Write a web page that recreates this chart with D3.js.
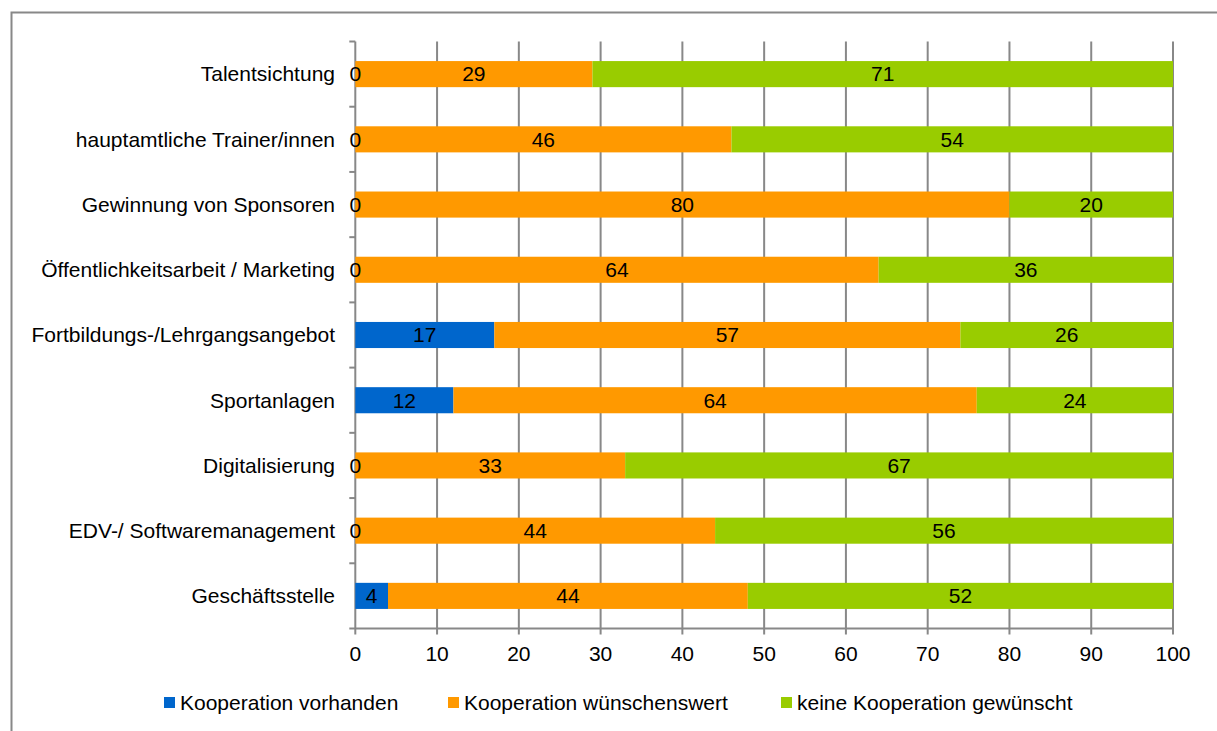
<!DOCTYPE html>
<html>
<head>
<meta charset="utf-8">
<script src="https://cdn.jsdelivr.net/npm/d3@7"></script>
<style>
  html, body { margin: 0; padding: 0; background: #fff; }
  svg { display: block; font-family: "Liberation Sans", Arial, sans-serif; }
</style>
</head>
<body>
<svg id="chart" width="1217" height="731"></svg>
<script>
// Categories, top to bottom
const categories = [
  "Talentsichtung",
  "hauptamtliche Trainer/innen",
  "Gewinnung von Sponsoren",
  "Öffentlichkeitsarbeit / Marketing",
  "Fortbildungs-/Lehrgangsangebot",
  "Sportanlagen",
  "Digitalisierung",
  "EDV-/ Softwaremanagement",
  "Geschäftsstelle"
];

// Share of answers (percent) per category
const vorhanden   = [0, 0, 0, 0, 17, 12, 0, 0, 4];
const wuenschens  = [29, 46, 80, 64, 57, 64, 33, 44, 44];
const keine       = [71, 54, 20, 36, 26, 24, 67, 56, 52];

const seriesNames = ["Kooperation vorhanden", "Kooperation wünschenswert", "keine Kooperation gewünscht"];
const seriesColors = ["#0066CC", "#FF9900", "#99CC00"];
const xTicks = [0, 10, 20, 30, 40, 50, 60, 70, 80, 90, 100];

const rows = categories.map((c, i) => ({ cat: c, v0: vorhanden[i], v1: wuenschens[i], v2: keine[i] }));
const stack = d3.stack().keys(["v0", "v1", "v2"])(rows);

const svg = d3.select("#chart");
const FONT = 21;

// outer frame (continues past the right and bottom edges)
svg.append("rect")
  .attr("x", 11.5).attr("y", 12.5)
  .attr("width", 1300).attr("height", 800)
  .attr("fill", "none").attr("stroke", "#888").attr("stroke-width", 2);

const x = d3.scaleLinear().domain([0, 100]).range([355.3, 1173]);
const y = d3.scaleBand().domain(categories).range([41.5, 628.5]).paddingInner(0.6).paddingOuter(0.3);

const grid = "#888";

// vertical gridlines with tick extensions below the axis
svg.append("g").selectAll("line").data(xTicks).join("line")
  .attr("x1", d => x(d)).attr("x2", d => x(d))
  .attr("y1", 41.5).attr("y2", 634.5)
  .attr("stroke", grid).attr("stroke-width", 2);

// horizontal axis line
svg.append("line")
  .attr("x1", x(0)).attr("x2", x(100))
  .attr("y1", 628.5).attr("y2", 628.5)
  .attr("stroke", grid).attr("stroke-width", 2);

// category boundary ticks on the vertical axis
const bounds = d3.range(categories.length + 1).map(i => y.range()[0] + i * y.step());
svg.append("g").selectAll("line").data(bounds).join("line")
  .attr("x1", x(0) - 6).attr("x2", x(0))
  .attr("y1", d => d).attr("y2", d => d)
  .attr("stroke", grid).attr("stroke-width", 2);

// stacked bars
const barG = svg.append("g");
stack.forEach((s, si) => {
  barG.append("g").selectAll("rect").data(s).join("rect")
    .attr("x", d => x(d[0]))
    .attr("width", d => x(d[1]) - x(d[0]))
    .attr("y", d => y(d.data.cat))
    .attr("height", y.bandwidth())
    .attr("fill", seriesColors[si]);
});

// value labels centred in each segment
stack.forEach((s, si) => {
  barG.append("g").selectAll("text").data(s).join("text")
    .attr("x", d => (x(d[0]) + x(d[1])) / 2)
    .attr("y", d => y(d.data.cat) + y.bandwidth() / 2)
    .attr("dy", "0.35em")
    .attr("text-anchor", "middle")
    .attr("font-size", FONT)
    .attr("fill", "#000")
    .text(d => d[1] - d[0]);
});

// category labels
svg.append("g").selectAll("text").data(categories).join("text")
  .attr("x", 335)
  .attr("y", d => y(d) + y.bandwidth() / 2)
  .attr("dy", "0.35em")
  .attr("text-anchor", "end")
  .attr("font-size", FONT)
  .attr("fill", "#000")
  .text(d => d);

// x tick labels
svg.append("g").selectAll("text").data(xTicks).join("text")
  .attr("x", d => x(d))
  .attr("y", 661)
  .attr("text-anchor", "middle")
  .attr("font-size", FONT)
  .attr("fill", "#000")
  .text(d => d);

// legend
const legendX = [164, 448, 781];
const lg = svg.append("g").selectAll("g").data(seriesNames).join("g")
  .attr("transform", (d, i) => `translate(${legendX[i]},697)`);
lg.append("rect").attr("width", 11).attr("height", 11).attr("fill", (d, i) => seriesColors[i]);
lg.append("text")
  .attr("x", 16).attr("y", 5.5).attr("dy", "0.35em")
  .attr("font-size", FONT).attr("fill", "#000")
  .text(d => d);
</script>
</body>
</html>
